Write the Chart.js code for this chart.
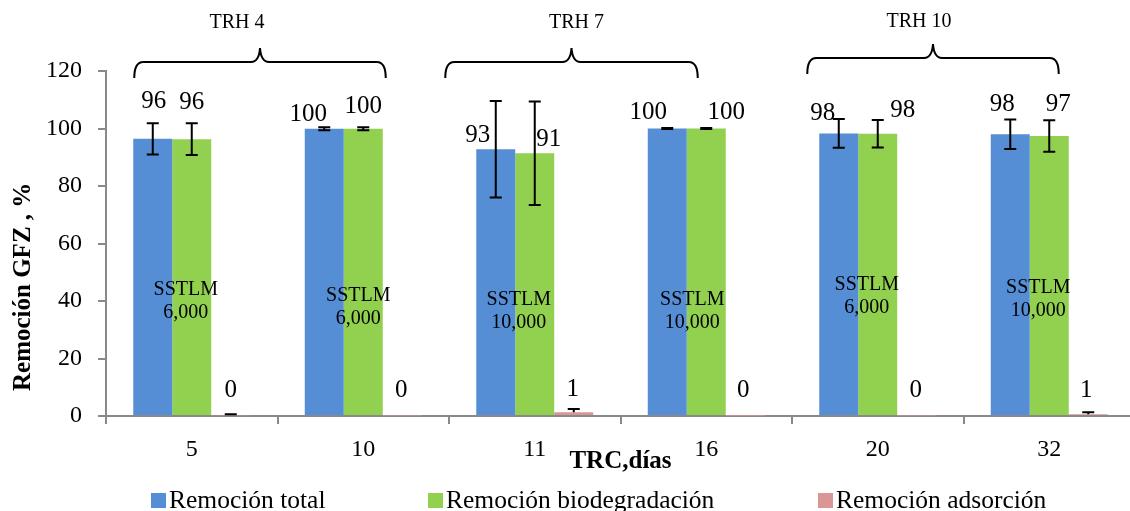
<!DOCTYPE html>
<html lang="es">
<head>
<meta charset="UTF-8">
<title>Remoción GFZ</title>
<script src="https://cdn.jsdelivr.net/npm/chart.js"></script>
<style>
    html, body { margin: 0; padding: 0; background: #ffffff; overflow: hidden; }
    #grafica { display: block; }
</style>
</head>
<body>
<canvas id="grafica" width="1140" height="511"></canvas>
<script>
    // Datos
    const categorias = ['5', '10', '11', '16', '20', '32'];
    const remTotal = [96.4, 99.9, 92.8, 100.0, 98.3, 98.0];
    const remBio   = [96.3, 99.9, 91.4, 100.0, 98.2, 97.4];
    const remAds   = [0.3, 0.2, 1.3, 0.1, 0.2, 0.6];
    const errTotal = [5.4, 0.5, 16.8, 0.2, 5.0, 5.1];
    const errBio   = [5.5, 0.5, 18.0, 0.2, 4.8, 5.5];
    const errAds   = [0.3, 0.0, 1.1, 0.0, 0.0, 0.7];
    const sstlm    = ['6,000', '6,000', '10,000', '10,000', '6,000', '10,000'];
    const grupos   = ['TRH 4', 'TRH 7', 'TRH 10'];
    const ticksY   = [0, 20, 40, 60, 80, 100, 120];

    const fuente = '"Liberation Serif", "Times New Roman", serif';
    const colores = ['#558ED5', '#92D050', '#D99694'];

    // ajustes manuales de las etiquetas (como en el original)
    const ajusteEtiq = [
        [[1, -37], [-16, -14], [-18, -14], [-19, -16], [-16, -20], [-8, -30]],
        [[0, -37], [0, -22], [14, -14], [20, -16], [25, -23], [9, -32]],
        [[0, -25], [-1, -25], [-1, -23], [-2, -25], [-1, -25], [-2, -24]]
    ];
    const ajusteSstlm = [[-6, 43.8], [-5, 41.7], [-16, 40.3], [-14, 40.3], [-11, 45.5], [-11, 44.5]];
    const llaves = [
        { desde: 0, hasta: 1, dx: 1, dxFin: 3, y: 62, dxTexto: -23, yTexto: 23 },
        { desde: 2, hasta: 3, dx: -31, dxFin: -28, y: 62, dxTexto: 5, yTexto: 23 },
        { desde: 4, hasta: 5, dx: -12, dxFin: -10, y: 58, dxTexto: -14, yTexto: 22 }
    ];
    const leyendaX = [151, 428, 818];

    const errores = [errTotal, errBio, errAds];
    const soloPositivo = [false, false, true];

    const extras = {
        id: 'extras',
        afterDatasetsDraw(chart) {
            const ctx = chart.ctx;
            const y = chart.scales.y;
            const area = chart.chartArea;

            // barras de error
            ctx.save();
            ctx.beginPath();
            ctx.rect(area.left, area.top - 40, area.right - area.left, area.bottom - area.top + 40);
            ctx.clip();
            ctx.strokeStyle = '#000000';
            ctx.lineWidth = 2;
            chart.data.datasets.forEach((ds, d) => {
                chart.getDatasetMeta(d).data.forEach((bar, i) => {
                    const e = errores[d][i];
                    if (!e) return;
                    const v = ds.data[i];
                    const y1 = y.getPixelForValue(v + e);
                    const y2 = soloPositivo[d] ? y.getPixelForValue(v) : y.getPixelForValue(v - e);
                    ctx.beginPath();
                    ctx.moveTo(bar.x, y1); ctx.lineTo(bar.x, y2);
                    ctx.moveTo(bar.x - 6, y1); ctx.lineTo(bar.x + 6, y1);
                    if (!soloPositivo[d]) { ctx.moveTo(bar.x - 6, y2); ctx.lineTo(bar.x + 6, y2); }
                    ctx.stroke();
                });
            });
            ctx.restore();

            // etiquetas de valores
            ctx.save();
            ctx.fillStyle = '#000000';
            ctx.font = '25px ' + fuente;
            ctx.textAlign = 'center';
            ctx.textBaseline = 'middle';
            chart.data.datasets.forEach((ds, d) => {
                chart.getDatasetMeta(d).data.forEach((bar, i) => {
                    const a = ajusteEtiq[d][i];
                    ctx.fillText(Math.round(ds.data[i]).toString(), bar.x + a[0], bar.y + a[1]);
                });
            });

            // texto SSTLM
            ctx.font = '20px ' + fuente;
            const x = chart.scales.x;
            sstlm.forEach((t, i) => {
                const cx = x.getPixelForValue(i) + ajusteSstlm[i][0];
                const cy = y.getPixelForValue(ajusteSstlm[i][1]);
                ctx.fillText('SSTLM', cx, cy);
                ctx.fillText(t, cx, cy + 23);
            });
            ctx.restore();
        },
        afterDraw(chart) {
            const ctx = chart.ctx;
            const x = chart.scales.x;
            const anchoCat = x.getPixelForValue(1) - x.getPixelForValue(0);
            const anchoBarra = anchoCat * 0.682 / 3;

            // llaves TRH
            ctx.save();
            ctx.strokeStyle = '#000000';
            ctx.lineWidth = 2;
            llaves.forEach((ll, k) => {
                const x1 = x.getPixelForValue(ll.desde) - 1.5 * anchoBarra + ll.dx;
                const x2 = x.getPixelForValue(ll.hasta) + 0.5 * anchoBarra + ll.dxFin;
                const xm = (x1 + x2) / 2;
                const yb = ll.y;
                ctx.beginPath();
                ctx.moveTo(x1, yb + 16);
                ctx.quadraticCurveTo(x1, yb, x1 + 9, yb);
                ctx.lineTo(xm - 9, yb);
                ctx.quadraticCurveTo(xm - 1, yb, xm, yb - 14);
                ctx.quadraticCurveTo(xm + 1, yb, xm + 9, yb);
                ctx.lineTo(x2 - 9, yb);
                ctx.quadraticCurveTo(x2, yb, x2, yb + 16);
                ctx.stroke();

                ctx.fillStyle = '#000000';
                ctx.font = '20px ' + fuente;
                ctx.textAlign = 'center';
                ctx.textBaseline = 'middle';
                ctx.fillText(grupos[k], xm + ll.dxTexto, ll.yTexto);
            });

            // leyenda
            ctx.font = '25.5px ' + fuente;
            ctx.textAlign = 'left';
            ctx.textBaseline = 'alphabetic';
            chart.data.datasets.forEach((ds, d) => {
                ctx.fillStyle = ds.backgroundColor;
                ctx.fillRect(leyendaX[d], 493, 15, 15);
                ctx.fillStyle = '#000000';
                ctx.fillText(ds.label, leyendaX[d] + 18, 508);
            });
            ctx.restore();
        }
    };

    new Chart(document.getElementById('grafica'), {
        type: 'bar',
        data: {
            labels: categorias,
            datasets: [
                { label: 'Remoción total', data: remTotal, backgroundColor: colores[0] },
                { label: 'Remoción biodegradación', data: remBio, backgroundColor: colores[1] },
                { label: 'Remoción adsorción', data: remAds, backgroundColor: colores[2] }
            ]
        },
        options: {
            responsive: false,
            animation: false,
            devicePixelRatio: 1,
            layout: { padding: { top: 71, right: 5, left: 0, bottom: 0 } },
            datasets: { bar: { categoryPercentage: 0.682, barPercentage: 1.0, borderWidth: 0 } },
            plugins: {
                legend: { display: false },
                tooltip: { enabled: false }
            },
            scales: {
                x: {
                    grid: { offset: true, drawOnChartArea: false, tickLength: 8, color: '#898989', lineWidth: 2 },
                    border: { color: '#898989', width: 2 },
                    ticks: { color: '#000000', font: { family: fuente, size: 24 }, padding: 11 },
                    title: {
                        display: true, text: 'TRC,días', color: '#000000',
                        font: { family: fuente, size: 25, weight: 'bold' },
                        padding: { top: 0, bottom: 34 }
                    },
                    afterFit(scale) { scale.height = 95; }
                },
                y: {
                    min: 0, max: 120,
                    afterBuildTicks(scale) { scale.ticks = ticksY.map(v => ({ value: v })); },
                    grid: { drawOnChartArea: false, tickLength: 8, color: '#898989', lineWidth: 2 },
                    border: { color: '#898989', width: 2 },
                    ticks: { color: '#000000', font: { family: fuente, size: 24 }, padding: 16 },
                    title: {
                        display: true, text: '\u00a0\u00a0\u00a0\u00a0Remoción GFZ , %', color: '#000000', align: 'start',
                        font: { family: fuente, size: 25, weight: 'bold' },
                        padding: { top: 9, bottom: 0 }
                    },
                    afterFit(scale) { scale.width = 106; }
                }
            }
        },
        plugins: [extras]
    });
</script>
</body>
</html>
